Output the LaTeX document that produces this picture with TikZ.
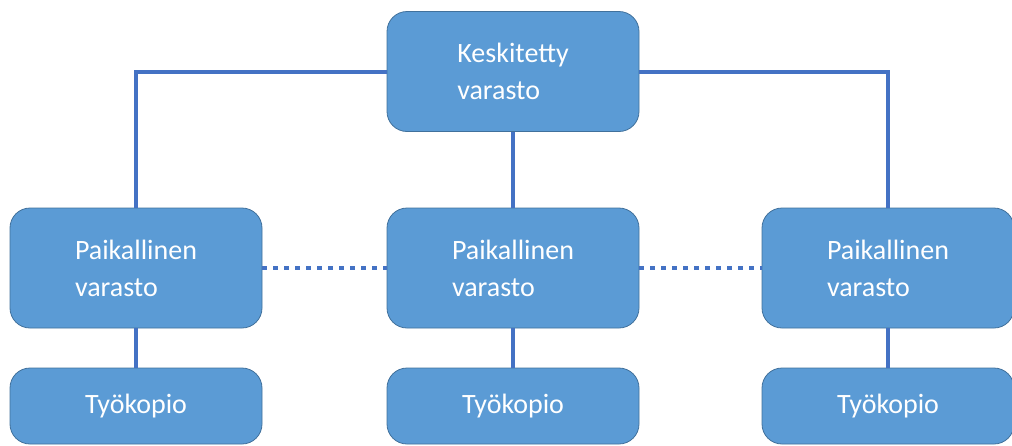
\documentclass[tikz,border=0pt]{standalone}
\usepackage{fontspec}
\setmainfont{Carlito}
\begin{document}
\begin{tikzpicture}[x=1pt,y=-1pt,
  box/.style={draw=boxline,fill=boxfill,line width=0.8pt,rounded corners=20pt,
    text=white,font=\fontsize{28}{37}\selectfont,align=left,inner sep=0pt,
    minimum width=252pt},
  tall/.style={box,minimum height=120pt},
  short/.style={box,minimum height=76pt},
  link/.style={draw=linkblue,line width=4pt},
  peer/.style={draw=linkblue,line width=4.5pt,dash pattern=on 5pt off 6pt}]
\definecolor{boxfill}{HTML}{5B9BD5}
\definecolor{boxline}{HTML}{41719C}
\definecolor{linkblue}{HTML}{4472C4}
\useasboundingbox (0,0) rectangle (1012,445);
% central repository
\node[tall] (central) at (513,71.5) {Keskitetty\\varasto};
% local repositories
\node[tall] (localA) at (136,268) {Paikallinen\\varasto};
\node[tall] (localB) at (513,268) {Paikallinen\\varasto};
\node[tall] (localC) at (888,268) {Paikallinen\\varasto};
% working copies
\node[short] (workA) at (136,406) {Työkopio};
\node[short] (workB) at (513,406) {Työkopio};
\node[short] (workC) at (888,406) {Työkopio};
% connectors
\draw[link] (central.west) -| (localA.north);
\draw[link] (central.east) -| (localC.north);
\draw[link] (central.south) -- (localB.north);
\draw[link] (localA.south) -- (workA.north);
\draw[link] (localB.south) -- (workB.north);
\draw[link] (localC.south) -- (workC.north);
\draw[peer] (localA.east) -- (localB.west);
\draw[peer] (localB.east) -- (localC.west);
\end{tikzpicture}
\end{document}
